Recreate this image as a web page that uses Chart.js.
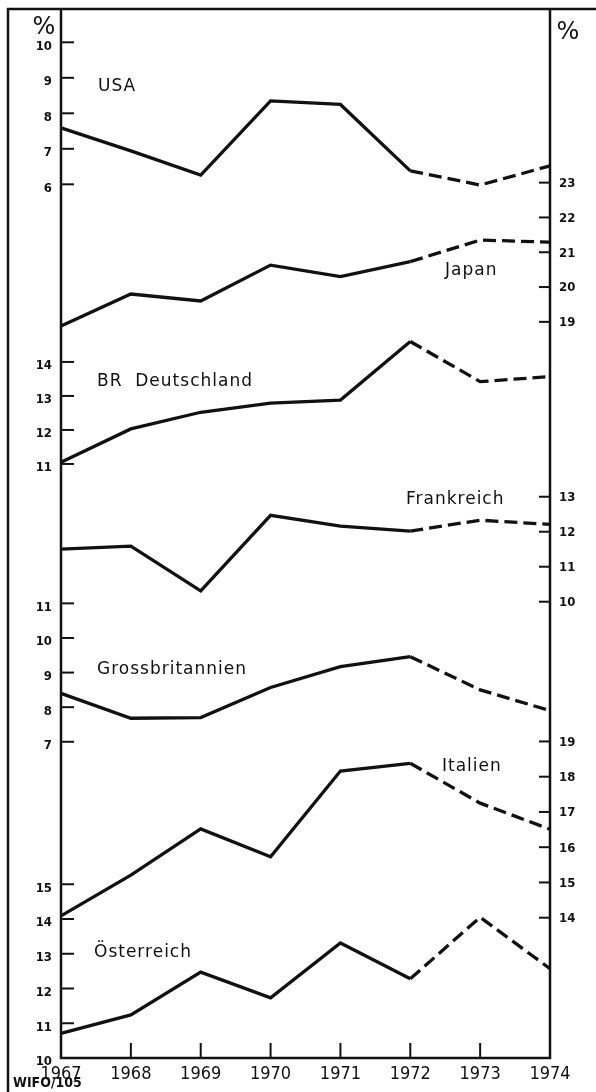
<!DOCTYPE html>
<html>
<head>
<meta charset="utf-8">
<script src="https://cdn.jsdelivr.net/npm/chart.js@4.4.0/dist/chart.umd.min.js"></script>
<style>
  body { margin: 0; background: #fff; }
</style>
</head>
<body>
<canvas id="wifo" width="596" height="1092"></canvas>
<script>
// Data (% values per country)
const years = ['1967', '1968', '1969', '1970', '1971', '1972', '1973', '1974'];
const usa = [7.59, 6.94, 6.26, 8.35, 8.25, 6.38, 5.98, 6.52];
const japan = [18.88, 19.80, 19.60, 20.63, 20.30, 20.73, 21.35, 21.29];
const deutschland = [11.05, 12.03, 12.52, 12.79, 12.88, 14.60, 13.42, 13.57];
const frankreich = [11.50, 11.59, 10.31, 12.47, 12.16, 12.02, 12.33, 12.21];
const grossbritannien = [8.40, 7.68, 7.70, 8.57, 9.17, 9.46, 8.50, 7.90];
const italien = [14.05, 15.21, 16.52, 15.73, 18.16, 18.38, 17.25, 16.51];
const oesterreich = [10.71, 11.24, 12.47, 11.73, 13.31, 12.28, 14.05, 12.57];

// Tick labels of the stacked scales
const usaTicks = [6, 7, 8, 9, 10];
const japanTicks = [19, 20, 21, 22, 23];
const deutschlandTicks = [11, 12, 13, 14];
const frankreichTicks = [10, 11, 12, 13];
const grossbritannienTicks = [7, 8, 9, 10, 11];
const italienTicks = [14, 15, 16, 17, 18, 19];
const oesterreichTicks = [10, 11, 12, 13, 14, 15];

const ink = '#111';
const lastSolid = 5; // from 1972 on the lines are dashed (estimates)

function series(label, data, axis) {
  return {
    label: label,
    data: data,
    yAxisID: axis,
    borderColor: ink,
    borderWidth: 3.3,
    borderCapStyle: 'butt',
    borderJoinStyle: 'miter',
    pointRadius: 0,
    tension: 0,
    fill: false,
    segment: {
      borderDash: ctx => ctx.p0DataIndex >= lastSolid ? [13, 6] : undefined
    }
  };
}

function hiddenAxis(min, max) {
  return { type: 'linear', display: false, min: min, max: max };
}

// which ticks go on which side, drawn from each country's own scale
const tickSets = [
  { axis: 'yUSA', side: 'left', values: usaTicks },
  { axis: 'yJP', side: 'right', values: japanTicks },
  { axis: 'yDE', side: 'left', values: deutschlandTicks },
  { axis: 'yFR', side: 'right', values: frankreichTicks },
  { axis: 'yGB', side: 'left', values: grossbritannienTicks },
  { axis: 'yIT', side: 'right', values: italienTicks },
  { axis: 'yAT', side: 'left', values: oesterreichTicks }
];

const names = [
  { text: 'USA', x: 98, y: 87 },
  { text: 'Japan', x: 445, y: 271 },
  { text: 'BR  Deutschland', x: 97, y: 382 },
  { text: 'Frankreich', x: 406, y: 500 },
  { text: 'Grossbritannien', x: 97, y: 670 },
  { text: 'Italien', x: 442, y: 767 },
  { text: 'Österreich', x: 94, y: 953 }
];

// draws the frame, inner ticks and all the lettering
const sheet = {
  id: 'sheet',
  afterDraw(chart) {
    const { ctx, chartArea: a, scales } = chart;
    ctx.save();
    ctx.strokeStyle = ink;
    ctx.fillStyle = ink;
    ctx.lineCap = 'square';

    // frame + axes
    ctx.lineWidth = 2.5;
    ctx.beginPath();
    ctx.moveTo(8, 1092); ctx.lineTo(8, 9); ctx.lineTo(596, 9);
    ctx.moveTo(a.left, a.top); ctx.lineTo(a.left, a.bottom); ctx.lineTo(a.right, a.bottom); ctx.lineTo(a.right, a.top);
    ctx.stroke();

    // year ticks pointing up
    ctx.lineWidth = 2;
    ctx.beginPath();
    years.forEach((y, i) => {
      const px = scales.x.getPixelForValue(i);
      ctx.moveTo(px, a.bottom); ctx.lineTo(px, a.bottom - 14);
    });
    ctx.stroke();

    // value ticks
    ctx.font = 'bold 13px "DejaVu Sans Condensed"';
    ctx.textBaseline = 'middle';
    tickSets.forEach(set => {
      const sc = scales[set.axis];
      set.values.forEach(v => {
        const py = sc.getPixelForValue(v);
        ctx.beginPath();
        if (set.side === 'left') {
          ctx.moveTo(a.left, py); ctx.lineTo(a.left + 12, py);
          ctx.stroke();
          ctx.textAlign = 'right';
          ctx.fillText(String(v), a.left - 9, py + 4);
        } else {
          ctx.moveTo(a.right - 10, py); ctx.lineTo(a.right, py);
          ctx.stroke();
          ctx.textAlign = 'left';
          ctx.fillText(String(v), a.right + 9, py + 1);
        }
      });
    });

    // country names
    ctx.font = '17px "DejaVu Sans"';
    ctx.letterSpacing = '1px';
    ctx.textAlign = 'left';
    names.forEach(n => ctx.fillText(n.text, n.x, n.y));
    ctx.letterSpacing = '0px';

    // units and source
    ctx.font = '24px "DejaVu Sans"';
    ctx.textAlign = 'center';
    ctx.fillText('%', 44, 28);
    ctx.fillText('%', 568, 33);
    ctx.font = 'bold 14px "DejaVu Sans Condensed"';
    ctx.textAlign = 'left';
    ctx.fillText('WIFO/105', 13, 1083);
    ctx.restore();
  }
};

const config = {
  type: 'line',
  data: {
    labels: years,
    datasets: [
      series('USA', usa, 'yUSA'),
      series('Japan', japan, 'yJP'),
      series('BR Deutschland', deutschland, 'yDE'),
      series('Frankreich', frankreich, 'yFR'),
      series('Grossbritannien', grossbritannien, 'yGB'),
      series('Italien', italien, 'yIT'),
      series('Österreich', oesterreich, 'yAT')
    ]
  },
  options: {
    responsive: false,
    animation: false,
    layout: { padding: { left: 61, right: 46, top: 10, bottom: 0 } },
    plugins: { legend: { display: false }, tooltip: { enabled: false } },
    scales: {
      x: {
        offset: false,
        grid: { display: false, drawTicks: false },
        border: { display: false },
        ticks: {
          color: ink,
          padding: 6,
          maxRotation: 0,
          autoSkip: false,
          font: { family: 'DejaVu Sans Condensed', size: 18, weight: '500' }
        },
        afterFit: scale => { scale.height = 34; }
      },
      yUSA: hiddenAxis(-18.61, 10.91),
      yJP: hiddenAxis(-2.15, 27.96),
      yDE: hiddenAxis(-6.47, 24.35),
      yFR: hiddenAxis(-3.04, 26.91),
      yGB: hiddenAxis(-2.14, 28.15),
      yIT: hiddenAxis(10.02, 39.75),
      yAT: hiddenAxis(10, 40.16)
    }
  },
  plugins: [sheet]
};

const wifoChart = new Chart(document.getElementById('wifo'), config);
</script>
</body>
</html>
